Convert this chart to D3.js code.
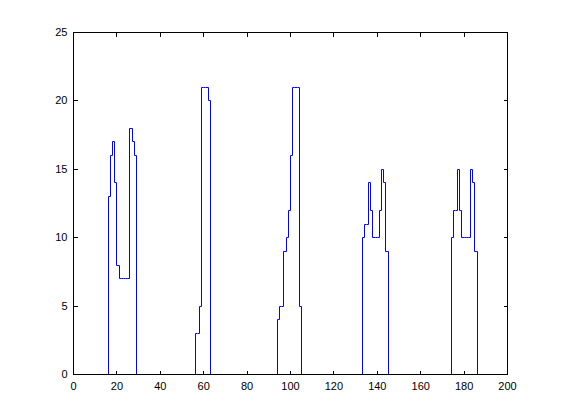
<!DOCTYPE html>
<html>
<head>
<meta charset="utf-8">
<script src="https://cdn.jsdelivr.net/npm/d3@7"></script>
<style>
  html, body { margin: 0; padding: 0; background: #ffffff; }
  svg { display: block; }
  text { font-family: "Liberation Sans", Arial, sans-serif; font-size: 11px; fill: #000; }
</style>
</head>
<body>
<script>
// ---- data ----
const clusterStarts = [16, 56, 94, 133, 174];
const cluster1 = [13, 16, 17, 14, 8, 7, 7, 7, 7, 7, 18, 17, 16];
const cluster2 = [3, 3, 5, 21, 21, 21, 20];
const cluster3 = [4, 5, 5, 9, 10, 12, 16, 21, 21, 21, 5];
const cluster4 = [10, 11, 11, 14, 12, 10, 10, 10, 12, 15, 14, 9];
const cluster5 = [10, 12, 12, 15, 12, 10, 10, 10, 10, 15, 14, 9];
const clusterValues = [cluster1, cluster2, cluster3, cluster4, cluster5];
const xTicks = [0, 20, 40, 60, 80, 100, 120, 140, 160, 180, 200];
const yTicks = [0, 5, 10, 15, 20, 25];

// ---- layout ----
const W = 561, H = 420;
const mLeft = 73, mRight = 507, mTop = 32, mBottom = 374;

const svg = d3.select("body").append("svg").attr("width", W).attr("height", H);

const x = d3.scaleLinear().domain([0, 200]).range([mLeft, mRight]);
const y = d3.scaleLinear().domain([0, 25]).range([mBottom, mTop]);
const px = v => Math.round(x(v)) + 0.5;
const py = v => Math.round(y(v)) + 0.5;

// data lines
const line = d3.line().x(d => px(d.x)).y(d => py(d.y)).curve(d3.curveStepAfter);
clusterValues.forEach((vals, k) => {
  const s = clusterStarts[k];
  const pts = [{x: s, y: 0}];
  vals.forEach((v, i) => pts.push({x: s + i, y: v}));
  pts.push({x: s + vals.length, y: 0});
  svg.append("path")
    .attr("d", line(pts))
    .attr("fill", "none")
    .attr("stroke", "#0000ff")
    .attr("stroke-width", 1);
});

// axes (box with inward ticks on all sides)
const tickLen = 4;
svg.append("rect")
  .attr("x", mLeft + 0.5).attr("y", mTop + 0.5)
  .attr("width", mRight - mLeft).attr("height", mBottom - mTop)
  .attr("fill", "none").attr("stroke", "#000").attr("stroke-width", 1);

const xb = svg.append("g").attr("transform", `translate(0,${mBottom + 0.5})`)
  .call(d3.axisBottom(x).tickValues(xTicks).tickSize(-tickLen).tickPadding(8).tickFormat(d3.format("d")));
const xt = svg.append("g").attr("transform", `translate(0,${mTop + 0.5})`)
  .call(d3.axisTop(x).tickValues(xTicks).tickSize(-tickLen).tickFormat(""));
const yl = svg.append("g").attr("transform", `translate(${mLeft + 0.5},0)`)
  .call(d3.axisLeft(y).tickValues(yTicks).tickSize(-tickLen).tickPadding(6).tickFormat(d3.format("d")));
const yr = svg.append("g").attr("transform", `translate(${mRight + 0.5},0)`)
  .call(d3.axisRight(y).tickValues(yTicks).tickSize(-tickLen).tickFormat(""));

[xb, xt, yl, yr].forEach(a => {
  a.select(".domain").remove();
  a.selectAll("line").attr("stroke", "#000").attr("shape-rendering", "crispEdges");
  a.selectAll("text").attr("font-family", "Liberation Sans, Arial, sans-serif").attr("font-size", 11).attr("fill", "#000");
});
</script>
</body>
</html>
